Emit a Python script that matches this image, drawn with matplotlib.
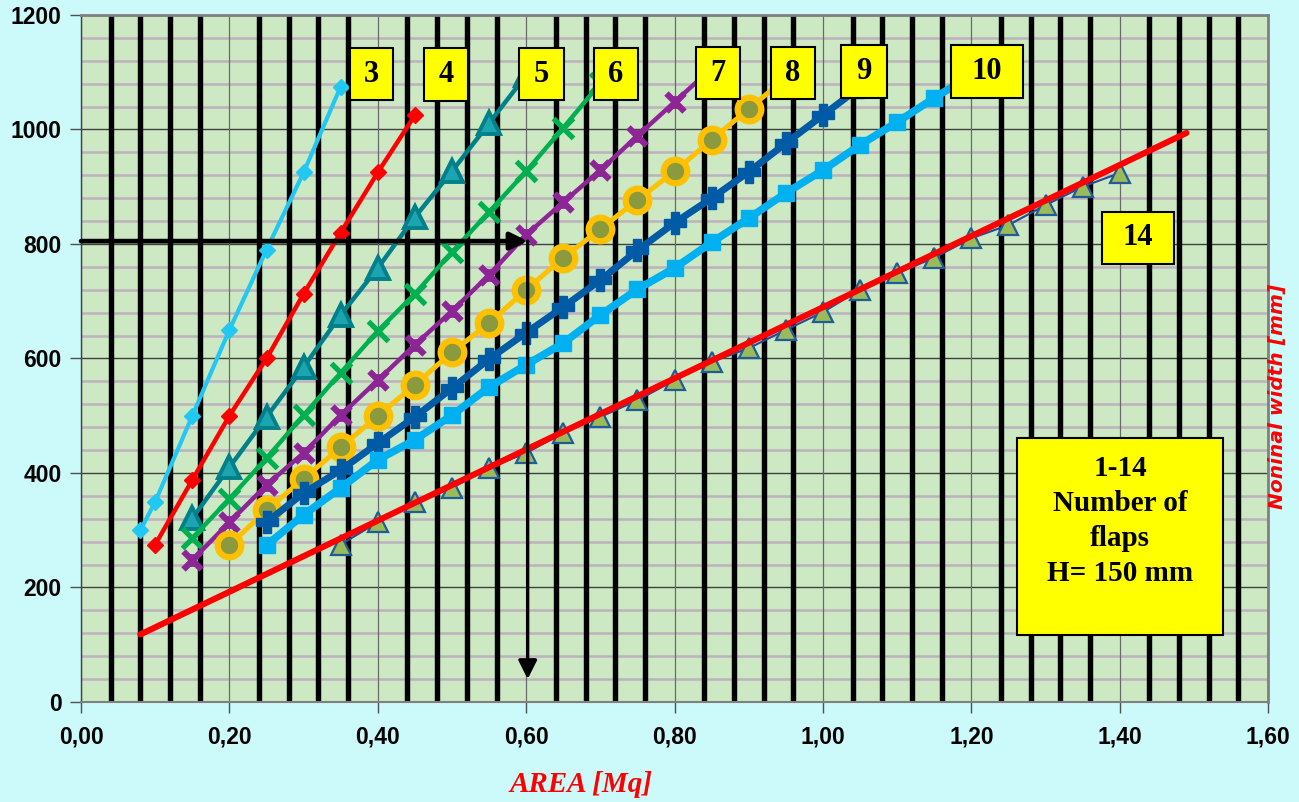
import numpy as np
import matplotlib.pyplot as plt
from matplotlib.patches import Rectangle
from matplotlib.path import Path
from matplotlib.ticker import MultipleLocator, FuncFormatter

# Curvas: area [Mq] contra ancho nominal [mm], una por numero de aletas
x3 = [0.08, 0.10, 0.15, 0.20, 0.25, 0.30, 0.35]
y3 = [300, 350, 500, 650, 790, 925, 1075]

x4 = [0.10, 0.15, 0.20, 0.25, 0.30, 0.35, 0.40, 0.45]
y4 = [275, 388, 500, 600, 713, 820, 925, 1025]

x5 = [0.15, 0.20, 0.25, 0.30, 0.35, 0.40, 0.45, 0.50, 0.55, 0.60]
y5 = [321, 410, 498, 585, 676, 758, 847, 927, 1011, 1095]

x6 = [0.15, 0.20, 0.25, 0.30, 0.35, 0.40, 0.45, 0.50, 0.55, 0.60, 0.65, 0.70]
y6 = [286, 355, 426, 501, 575, 648, 713, 786, 856, 927, 1003, 1081]

x7 = [0.15, 0.20, 0.25, 0.30, 0.35, 0.40, 0.45, 0.50, 0.55, 0.60, 0.65, 0.70,
      0.75, 0.80, 0.85]
y7 = [248, 314, 379, 435, 501, 562, 624, 683, 746, 816, 873, 929, 989, 1048, 1107]

x8 = [0.20, 0.25, 0.30, 0.35, 0.40, 0.45, 0.50, 0.55, 0.60, 0.65, 0.70, 0.75,
      0.80, 0.85, 0.90, 0.95]
y8 = [274, 335, 390, 445, 500, 554, 611, 662, 720, 776, 826, 877, 927, 982,
      1036, 1090]

x9 = [0.25, 0.30, 0.35, 0.40, 0.45, 0.50, 0.55, 0.60, 0.65, 0.70, 0.75, 0.80,
      0.85, 0.90, 0.95, 1.00, 1.05]
y9 = [314, 365, 405, 452, 498, 548, 599, 645, 690, 737, 789, 837, 880, 926,
      976, 1025, 1074]

x10 = [0.25, 0.30, 0.35, 0.40, 0.45, 0.50, 0.55, 0.60, 0.65, 0.70, 0.75, 0.80,
       0.85, 0.90, 0.95, 1.00, 1.05, 1.10, 1.15, 1.20]
y10 = [274, 327, 374, 423, 458, 501, 550, 589, 627, 676, 721, 758, 803, 845,
       889, 929, 973, 1013, 1055, 1095]

x14 = [0.35, 0.40, 0.45, 0.50, 0.55, 0.60, 0.65, 0.70, 0.75, 0.80, 0.85, 0.90,
       0.95, 1.00, 1.05, 1.10, 1.15, 1.20, 1.25, 1.30, 1.35, 1.40]
y14 = [275, 314, 349, 374, 409, 435, 470, 498, 527, 562, 594, 618, 650, 681,
       720, 749, 776, 810, 833, 868, 900, 924]

# recta de tendencia de la curva 14
trend_x = [0.08, 1.49]
trend_y = [118, 994]

# ejemplo de lectura (flechas)
lect_area = 0.602
lect_ancho = 805

plt.rcParams['font.family'] = 'Liberation Sans'
plt.rcParams['font.weight'] = 'bold'

# marcador "estrella" de Excel: una X con barra vertical
star = Path([(-1, -1), (1, 1), (-1, 1), (1, -1), (0, -0.7), (0, 0.7)],
            [Path.MOVETO, Path.LINETO, Path.MOVETO, Path.LINETO,
             Path.MOVETO, Path.LINETO])

fig = plt.figure(figsize=(12.99, 8.02), dpi=100, facecolor='#CCF9F9')
ax = fig.add_axes([0.0624, 0.1247, 0.9138, 0.8566])
ax.set_facecolor('#CDE9C4')

ax.set_xlim(0, 1.6)
ax.set_ylim(0, 1200)
ax.xaxis.set_major_locator(MultipleLocator(0.2))
ax.xaxis.set_minor_locator(MultipleLocator(0.04))
ax.yaxis.set_major_locator(MultipleLocator(200))
ax.yaxis.set_minor_locator(MultipleLocator(40))
ax.xaxis.set_major_formatter(FuncFormatter(lambda v, p: f"{v:.2f}".replace('.', ',')))

ax.set_axisbelow(True)
ax.yaxis.grid(True, which='minor', color='#BDB2BD', lw=1.8)
ax.yaxis.grid(True, which='major', color='#404040', lw=1.0)
# lineas verticales negras gruesas encima de la rejilla horizontal
ax.vlines(ax.xaxis.get_minorticklocs(), 0, 1200, color='black', lw=3.9, zorder=1)
ax.vlines(ax.xaxis.get_majorticklocs(), 0, 1200, color='#6A6A6A', lw=0.9, zorder=1)

ax.tick_params(which='major', direction='out', length=8, width=1, color='#505050',
               labelsize=16.5, pad=6)
ax.tick_params(axis='x', pad=9)
ax.tick_params(which='minor', length=0)
plt.setp(ax.get_xticklabels() + ax.get_yticklabels(), fontweight='bold')

for s in ['top', 'right']:
    ax.spines[s].set_color('#808080')
    ax.spines[s].set_linewidth(2)
ax.spines['left'].set_color('#404040')
ax.spines['left'].set_linewidth(1)
ax.spines['bottom'].set_color('#808080')
ax.spines['bottom'].set_linewidth(1.5)

# curvas
ax.plot(x3, y3, color='#22C8F2', lw=3, marker='D', ms=8, zorder=5)
ax.plot(x4, y4, color='#FF0000', lw=3.2, marker='D', ms=8, zorder=5)
ax.plot(x5, y5, color='#00808A', lw=3.2, marker='^', ms=16, mfc='#1AA5B0',
        mec='#00808A', mew=2.8, zorder=5)
ax.plot(x6, y6, color='#00B050', lw=3.2, marker='x', ms=15, mew=3.8, zorder=5)
ax.plot(x7, y7, color='#8E2597', lw=3.2, marker=star, ms=13, mew=4.5, zorder=5)
ax.plot(x8, y8, color='#FFC000', lw=3.6, marker='o', ms=17, mfc='#8A9A3C',
        mec='#FFC000', mew=4.5, zorder=5)
ax.plot(x9, y9, color='#005BA6', lw=5, marker='P', ms=16, zorder=5)
ax.plot(x10, y10, color='#00B0F0', lw=5.5, marker='s', ms=11, zorder=5)
ax.plot(x14, y14, color='#1F4E99', lw=1.5, marker='^', ms=14, mfc='#9BBB59',
        mec='#1F5C9A', mew=1.6, zorder=5)
ax.plot(trend_x, trend_y, color='#FF0000', lw=4.4, solid_capstyle='round', zorder=6)

# flechas de lectura
ax.annotate('', xy=(lect_area, lect_ancho), xytext=(0, lect_ancho),
            arrowprops=dict(arrowstyle='-|>', lw=3.4, color='black',
                            mutation_scale=26, shrinkA=0, shrinkB=0), zorder=7)
ax.annotate('', xy=(lect_area, 40), xytext=(lect_area, lect_ancho),
            arrowprops=dict(arrowstyle='-|>', lw=2.4, color='black',
                            mutation_scale=28, shrinkA=0, shrinkB=0), zorder=7)

# etiquetas amarillas
def caja(x0, x1, y0, y1, texto, fs=22, ytxt=None):
    ax.add_patch(Rectangle((x0, y0), x1 - x0, y1 - y0, facecolor='#FFFF00',
                           edgecolor='black', lw=1.5, zorder=8))
    if ytxt is None:
        ytxt = (y0 + y1) / 2
    ax.text((x0 + x1) / 2, ytxt, texto, ha='center', va='center',
            fontsize=fs, fontweight='bold', family='Liberation Serif',
            linespacing=1.38, zorder=9)

caja(0.3626, 0.4206, 1051, 1142, '3')
caja(0.4623, 0.5216, 1050, 1142, '4')
caja(0.5904, 0.6511, 1051, 1142, '5')
caja(0.6915, 0.7508, 1051, 1142, '6')
caja(0.8290, 0.8883, 1053, 1144, '7')
caja(0.9300, 0.9894, 1053, 1144, '8')
caja(1.0244, 1.0864, 1055, 1148, '9')
caja(1.1727, 1.2697, 1055, 1148, '10')
caja(1.3762, 1.4733, 765, 856, '14')
caja(1.2617, 1.5394, 117, 461, '1-14\nNumber of\nflaps\nH= 150 mm', fs=21,
     ytxt=316)

fig.text(581 / 1299, 1 - 785 / 802, 'AREA [Mq]', ha='center', va='center',
         color='red', fontsize=21, fontweight='bold', style='italic',
         family='Liberation Serif')
fig.text(1278 / 1299, 1 - 396 / 802, 'Noninal width [mm]', ha='center',
         va='center', rotation=90, color='red', fontsize=14.5, fontweight='bold',
         style='italic', family='DejaVu Sans')

plt.savefig('out.png', dpi=100, facecolor=fig.get_facecolor())
